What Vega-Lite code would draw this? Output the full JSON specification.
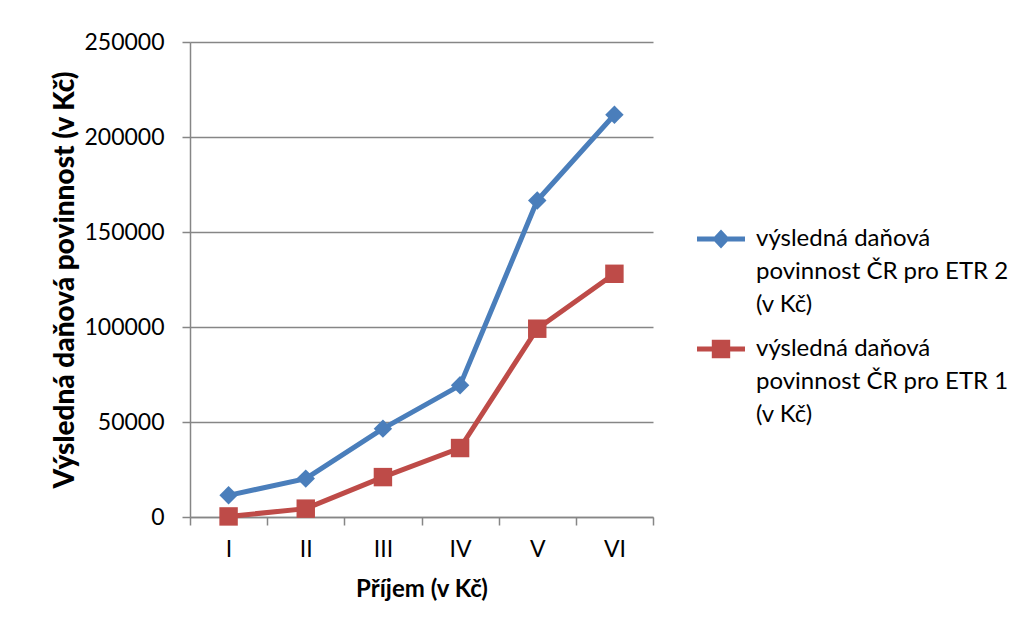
{
  "$schema": "https://vega.github.io/schema/vega-lite/v6.json",
  "width": 463,
  "height": 475,
  "autosize": {"type": "none"},
  "padding": {"left": 190, "top": 42, "right": 361, "bottom": 116},
  "background": "white",
  "config": {
    "font": "Lato",
    "view": {"stroke": null},
    "style": {"guide-label": {"lineHeight": 33}},
    "axis": {
      "labelFont": "Lato",
      "titleFont": "Lato",
      "labelColor": "black",
      "titleColor": "black",
      "domainColor": "#868686",
      "tickColor": "#868686",
      "gridColor": "#868686",
      "domainWidth": 1.5,
      "tickWidth": 1.5,
      "gridWidth": 1.5
    }
  },
  "data": {
    "values": [
      {"prijem": "I", "serie": "výsledná daňová povinnost ČR pro ETR 2 (v Kč)", "hodnota": 11400},
      {"prijem": "II", "serie": "výsledná daňová povinnost ČR pro ETR 2 (v Kč)", "hodnota": 20200},
      {"prijem": "III", "serie": "výsledná daňová povinnost ČR pro ETR 2 (v Kč)", "hodnota": 46500},
      {"prijem": "IV", "serie": "výsledná daňová povinnost ČR pro ETR 2 (v Kč)", "hodnota": 69300},
      {"prijem": "V", "serie": "výsledná daňová povinnost ČR pro ETR 2 (v Kč)", "hodnota": 166600},
      {"prijem": "VI", "serie": "výsledná daňová povinnost ČR pro ETR 2 (v Kč)", "hodnota": 211700},
      {"prijem": "I", "serie": "výsledná daňová povinnost ČR pro ETR 1 (v Kč)", "hodnota": 300},
      {"prijem": "II", "serie": "výsledná daňová povinnost ČR pro ETR 1 (v Kč)", "hodnota": 4400},
      {"prijem": "III", "serie": "výsledná daňová povinnost ČR pro ETR 1 (v Kč)", "hodnota": 21000},
      {"prijem": "IV", "serie": "výsledná daňová povinnost ČR pro ETR 1 (v Kč)", "hodnota": 36300},
      {"prijem": "V", "serie": "výsledná daňová povinnost ČR pro ETR 1 (v Kč)", "hodnota": 99100},
      {"prijem": "VI", "serie": "výsledná daňová povinnost ČR pro ETR 1 (v Kč)", "hodnota": 128000}
    ]
  },
  "encoding": {
    "x": {
      "field": "prijem",
      "type": "nominal",
      "sort": ["I", "II", "III", "IV", "V", "VI"],
      "scale": {"type": "band", "paddingInner": 0, "paddingOuter": 0},
      "axis": {
        "title": "Příjem (v Kč)",
        "titleFontSize": 24,
        "titleFontWeight": "bold",
        "titlePadding": 16,
        "labelFontSize": 23,
        "labelAngle": 0,
        "labelPadding": 13,
        "tickBand": "extent",
        "tickSize": 8,
        "grid": false
      }
    },
    "y": {
      "field": "hodnota",
      "type": "quantitative",
      "scale": {"domain": [0, 250000]},
      "axis": {
        "title": "Výsledná daňová povinnost (v Kč)",
        "titleFontSize": 28,
        "titleFontWeight": 900,
        "titlePadding": 4,
        "labelFontSize": 23,
        "labelPadding": 18,
        "values": [0, 50000, 100000, 150000, 200000, 250000],
        "format": "d",
        "tickSize": 8,
        "grid": true
      }
    },
    "color": {
      "field": "serie",
      "type": "nominal",
      "scale": {
        "domain": ["výsledná daňová povinnost ČR pro ETR 2 (v Kč)", "výsledná daňová povinnost ČR pro ETR 1 (v Kč)"],
        "range": ["#4A7EBB", "#BE4B48"]
      },
      "legend": {
        "title": null,
        "orient": "none",
        "legendX": 519,
        "legendY": 185,
        "padding": 0,
        "labelFontSize": 24,
        "labelFont": "Lato",
        "labelColor": "black",
        "labelLimit": 400,
        "labelExpr": "[slice(datum.label, 0, 15), slice(datum.label, 16, 38), slice(datum.label, 39)]",
        "rowPadding": 20,
        "symbolSize": 256,
        "symbolStrokeWidth": 0,
        "labelOffset": 23
      }
    }
  },
  "layer": [
    {"mark": {"type": "line", "strokeWidth": 5}},
    {
      "mark": {"type": "point", "filled": true, "opacity": 1, "size": 0},
      "encoding": {
        "shape": {
          "field": "serie",
          "type": "nominal",
          "scale": {
            "domain": ["výsledná daňová povinnost ČR pro ETR 2 (v Kč)", "výsledná daňová povinnost ČR pro ETR 1 (v Kč)"],
            "range": ["M-3,-0.3H3V0.3H-3Z M0,-1.2L1.1,0L0,1.2L-1.1,0Z", "M-3,-0.3H3V0.3H-3Z M-1.15,-1.15H1.15V1.15H-1.15Z"]
          }
        }
      }
    },
    {
      "mark": {"type": "point", "filled": true, "opacity": 1, "size": 340},
      "encoding": {
        "shape": {
          "condition": {"test": "datum.serie === 'výsledná daňová povinnost ČR pro ETR 2 (v Kč)'", "value": "diamond"},
          "value": "square"
        }
      }
    }
  ]
}
